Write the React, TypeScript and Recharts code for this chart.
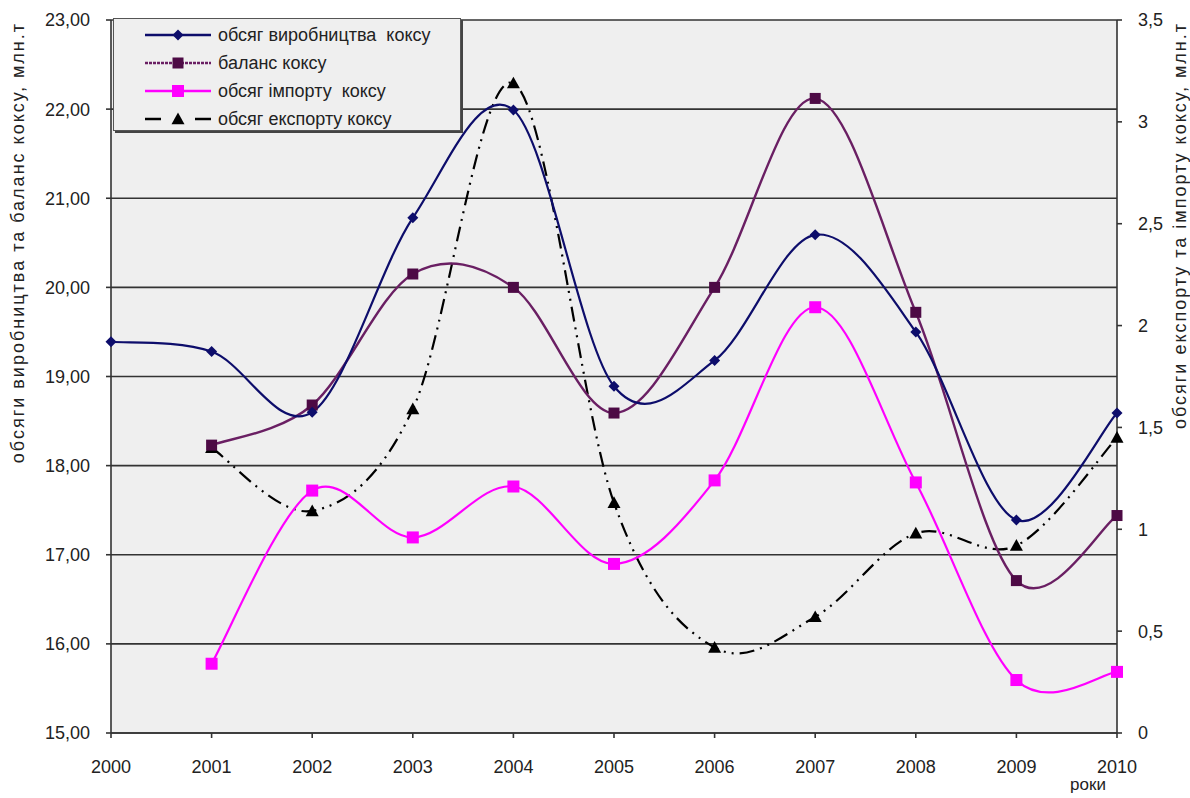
import React from 'react';
import { LineChart, Line, XAxis, YAxis, CartesianGrid } from 'recharts';

const years = [2000, 2001, 2002, 2003, 2004, 2005, 2006, 2007, 2008, 2009, 2010];
const production = [19.39, 19.28, 18.6, 20.78, 21.99, 18.89, 19.18, 20.59, 19.5, 17.39, 18.59];
const balance = [null, 18.23, 18.68, 20.15, 20.0, 18.59, 20.0, 22.12, 19.72, 16.71, 17.44];
const imports = [null, 0.34, 1.19, 0.96, 1.21, 0.83, 1.24, 2.09, 1.23, 0.26, 0.3];
const exportsCoke = [null, 1.4, 1.09, 1.59, 3.19, 1.13, 0.42, 0.57, 0.98, 0.92, 1.45];

const leftTicks = [15, 16, 17, 18, 19, 20, 21, 22, 23];
const rightTicks = [0, 0.5, 1, 1.5, 2, 2.5, 3, 3.5];

const FONT = '"Liberation Sans", Arial, sans-serif';
const NAVY = '#0d0d6b';
const PLUM = '#6a1f63';
const PINK = '#ff00ff';

// smoothing close to the spreadsheet one (catmull-rom style bezier)
const smooth = (context: any) => {
  let pts: number[][] = [];
  return {
    areaStart() {},
    areaEnd() {},
    lineStart() {
      pts = [];
    },
    point(x: number, y: number) {
      pts.push([+x, +y]);
    },
    lineEnd() {
      const n = pts.length;
      if (!n) return;
      context.moveTo(pts[0][0], pts[0][1]);
      for (let i = 0; i < n - 1; i++) {
        const p0 = pts[i > 0 ? i - 1 : i];
        const p1 = pts[i];
        const p2 = pts[i + 1];
        const p3 = pts[i + 2 < n ? i + 2 : i + 1];
        context.bezierCurveTo(
          p1[0] + (p2[0] - p0[0]) / 6,
          p1[1] + (p2[1] - p0[1]) / 6,
          p2[0] - (p3[0] - p1[0]) / 6,
          p2[1] - (p3[1] - p1[1]) / 6,
          p2[0],
          p2[1]
        );
      }
    },
  };
};

const data = years.map((y, i) => ({
  year: y,
  production: production[i],
  balance: balance[i],
  imports: imports[i],
  exports: exportsCoke[i],
}));

function MarkerShape({ shape, cx, cy, fill }: { shape: string; cx: number; cy: number; fill: string }) {
  if (shape === 'diamond') {
    const r = 5.5;
    return <path d={`M${cx},${cy - r}L${cx + r},${cy}L${cx},${cy + r}L${cx - r},${cy}Z`} fill={fill} />;
  }
  if (shape === 'triangle') {
    const r = 6.5;
    return <path d={`M${cx},${cy - r}L${cx + r},${cy + r * 0.8}L${cx - r},${cy + r * 0.8}Z`} fill={fill} />;
  }
  const s = shape === 'bigsquare' ? 12 : 11;
  return <rect x={cx - s / 2} y={cy - s / 2} width={s} height={s} fill={fill} />;
}

const dotFor = (shape: string, fill: string) => (props: any) => {
  const { cx, cy, index, value } = props;
  if (value == null || cx == null || cy == null) return <g key={`${shape}-${index}`} />;
  return (
    <g key={`${shape}-${index}`}>
      <MarkerShape shape={shape} cx={cx} cy={cy} fill={fill} />
    </g>
  );
};

const legendItems = [
  { label: 'обсяг виробництва  коксу', color: NAVY, shape: 'diamond', dash: undefined, fill: NAVY },
  { label: 'баланс коксу', color: PLUM, shape: 'square', dash: '3 1', fill: '#4d0a45' },
  { label: 'обсяг імпорту  коксу', color: PINK, shape: 'bigsquare', dash: undefined, fill: PINK },
  { label: 'обсяг експорту коксу', color: '#000', shape: 'triangle', dash: '18 12', fill: '#000' },
];

const fmtLeft = (v: number) => v.toFixed(2).replace('.', ',');
const fmtRight = (v: number) => String(v).replace('.', ',');

export default function App() {
  const tickStyle = { fontSize: 18, fill: '#222', fontFamily: FONT };
  return (
    <div style={{ position: 'absolute', left: 0, top: 0, width: 1190, height: 798, background: '#fff', fontFamily: FONT }}>
      <LineChart width={1190} height={798} data={data} margin={{ top: 20, right: 0, bottom: 0, left: 0 }}>
        <CartesianGrid vertical={false} fill="#efefef" stroke="#333" strokeWidth={1.6} yAxisId="left" />
        <XAxis
          dataKey="year"
          type="number"
          domain={[2000, 2010]}
          ticks={years}
          height={65}
          tickSize={5}
          tickMargin={22}
          tick={tickStyle}
          stroke="#333"
          strokeWidth={1.6}
        />
        <YAxis
          yAxisId="left"
          orientation="left"
          domain={[15, 23]}
          ticks={leftTicks}
          width={111}
          tickSize={5}
          tickMargin={16}
          tickFormatter={fmtLeft}
          tick={tickStyle}
          stroke="#333"
          strokeWidth={1.6}
        />
        <YAxis
          yAxisId="right"
          orientation="right"
          domain={[0, 3.5]}
          ticks={rightTicks}
          width={73}
          tickSize={5}
          tickMargin={16}
          tickFormatter={fmtRight}
          tick={tickStyle}
          stroke="#333"
          strokeWidth={1.6}
        />
        <Line
          yAxisId="right"
          dataKey="exports"
          type={smooth as any}
          stroke="#000"
          strokeWidth={2.2}
          strokeDasharray="15 6 2 6 2 6"
          dot={dotFor('triangle', '#000')}
          isAnimationActive={false}
        />
        <Line
          yAxisId="right"
          dataKey="imports"
          type={smooth as any}
          stroke={PINK}
          strokeWidth={2.2}
          dot={dotFor('bigsquare', PINK)}
          isAnimationActive={false}
        />
        <Line
          yAxisId="left"
          dataKey="balance"
          type={smooth as any}
          stroke={PLUM}
          strokeWidth={2.4}
          dot={dotFor('square', '#4d0a45')}
          isAnimationActive={false}
        />
        <Line
          yAxisId="left"
          dataKey="production"
          type={smooth as any}
          stroke={NAVY}
          strokeWidth={2.2}
          dot={dotFor('diamond', NAVY)}
          isAnimationActive={false}
        />
      </LineChart>

      <svg
        width={1190}
        height={798}
        style={{ position: 'absolute', left: 0, top: 0, pointerEvents: 'none' }}
      >
        <text
          transform="translate(24,22) rotate(-90)"
          textAnchor="end"
          fontSize={18}
          letterSpacing={2}
          fill="#222"
          fontFamily={FONT}
        >
          обсяги виробництва та баланс коксу, млн.т
        </text>
        <text
          transform="translate(1186,22) rotate(-90)"
          textAnchor="end"
          fontSize={18}
          letterSpacing={2}
          fill="#222"
          fontFamily={FONT}
        >
          обсяги експорту та імпорту коксу, млн.т
        </text>
        <text x={1088} y={790} textAnchor="middle" fontSize={17} fill="#222" fontFamily={FONT}>
          роки
        </text>
      </svg>

      <div
        style={{
          position: 'absolute',
          left: 113,
          top: 18,
          width: 348,
          height: 113,
          background: '#efefef',
          border: '1px solid #555',
          boxShadow: '2px 2px 0 #444',
          paddingTop: 2,
          boxSizing: 'border-box',
        }}
      >
        {legendItems.map((it) => (
          <div key={it.label} style={{ display: 'flex', alignItems: 'center', height: 28 }}>
            <svg width={66} height={20} style={{ marginLeft: 31, marginRight: 7 }}>
              {it.shape === 'triangle' ? (
                <g>
                  <line x1={0} y1={10} x2={16} y2={10} stroke="#000" strokeWidth={2.5} />
                  <line x1={50} y1={10} x2={66} y2={10} stroke="#000" strokeWidth={2.5} />
                </g>
              ) : (
                <line x1={0} y1={10} x2={66} y2={10} stroke={it.color} strokeWidth={2.4} strokeDasharray={it.dash} />
              )}
              <MarkerShape shape={it.shape} cx={33} cy={10} fill={it.fill} />
            </svg>
            <span style={{ fontSize: 18, color: '#222', whiteSpace: 'pre', fontFamily: FONT }}>{it.label}</span>
          </div>
        ))}
      </div>
    </div>
  );
}
